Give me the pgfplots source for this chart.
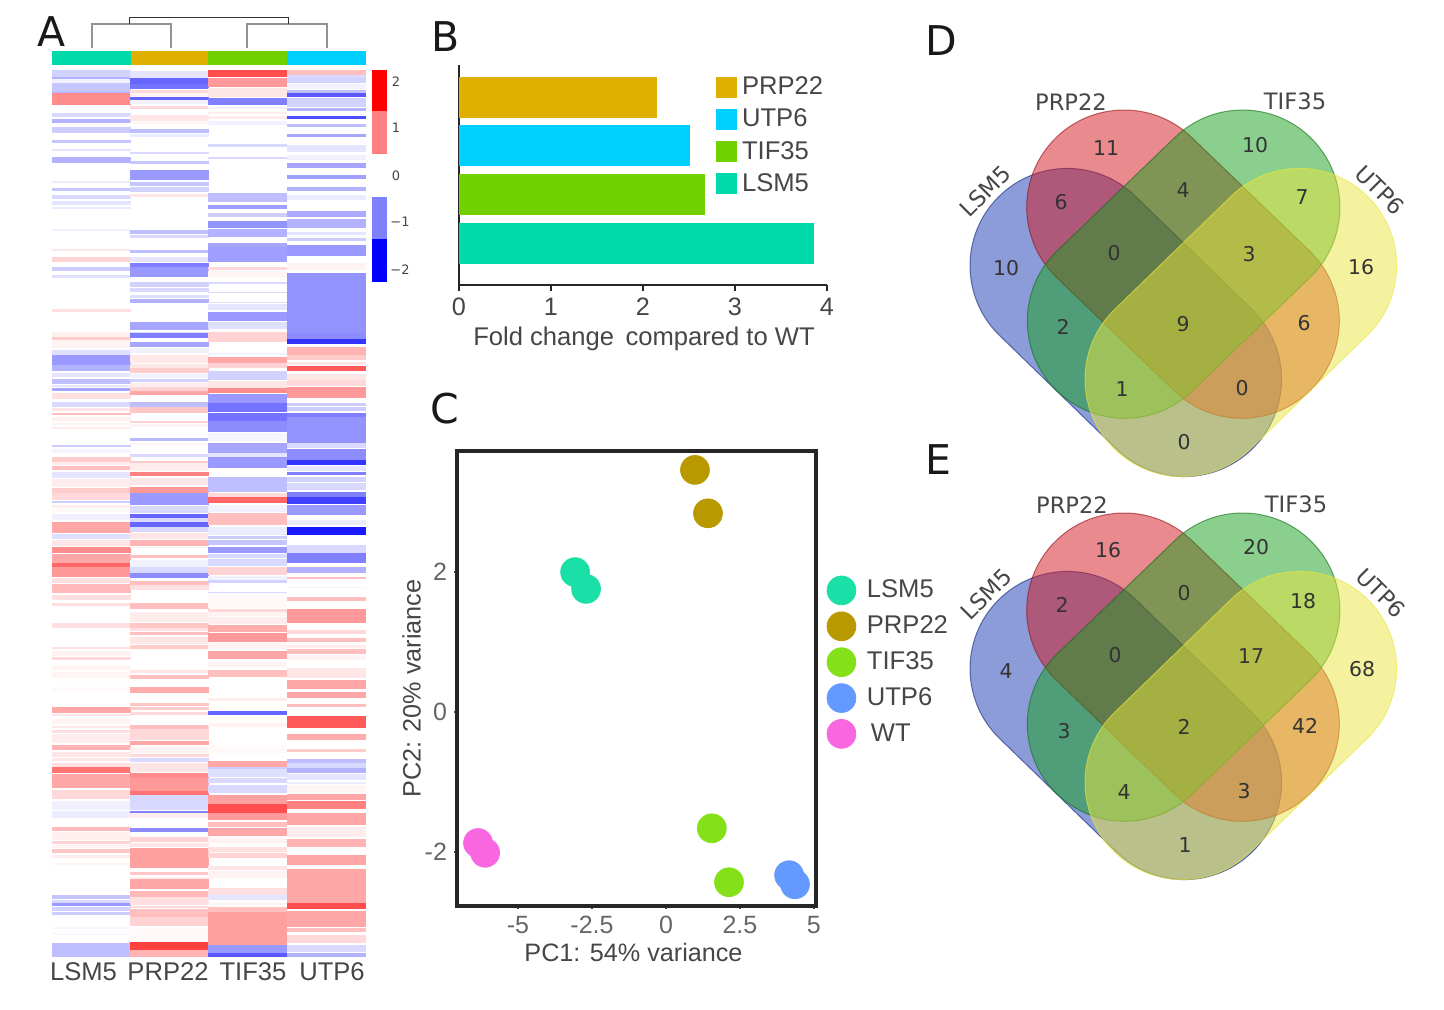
\documentclass[border=0pt]{standalone}
\usepackage{fontspec}
\usepackage{pgfplots}
\usepackage{pgfplotstable}
\pgfplotsset{compat=1.18}
\setmainfont{Liberation Sans}
\newfontfamily\dejavu{DejaVu Sans}

\definecolor{cLSM}{RGB}{0,218,170}
\definecolor{cPRP}{RGB}{224,176,0}
\definecolor{cTIF}{RGB}{112,208,0}
\definecolor{cUTP}{RGB}{0,208,255}
\definecolor{txt}{RGB}{70,70,70}
\definecolor{vBlue}{RGB}{23,57,177}
\definecolor{vRed}{RGB}{211,21,31}
\definecolor{vGreen}{RGB}{23,159,29}
\definecolor{vYellow}{RGB}{233,229,61}
\definecolor{pLSM}{RGB}{26,224,168}
\definecolor{pPRP}{RGB}{184,154,0}
\definecolor{pTIF}{RGB}{132,224,24}
\definecolor{pUTP}{RGB}{100,153,255}
\definecolor{pWT}{RGB}{248,102,224}

% heatmap columns: top and bottom of each stripe (pixels), z-score; white rows left out
\pgfplotstableread{
a b v
70 77 -.35
77 79 -.6
79 83 -.1
83 92 -.45
92 93 -.6
93 105 .9
113 117 -.3
119 123 -.6
127 133 -.4
140 143 -.45
149 151 -.2
157 163 -.6
181 183 -.15
188 191 -.45
195 199 -.3
201 205 -.2
207 209 -.15
229 231 -.1
249 251 .2
257 262 .35
267 271 -.4
275 278 -.25
309 312 .25
332 337 .12
337 340 .4
340 348 .1
350 355 -.25
355 365 -.8
365 371 -.6
373 377 -.2
379 384 -.5
385 387 -.2
388 391 -.7
393 399 .25
402 407 -.3
408 411 .2
413 415 .5
417 421 .12
423 425 .1
427 429 .15
445 447 -.4
449 453 -.08
457 462 .4
462 465 .15
466 470 .5
472 478 -.2
479 487 .15
488 493 .4
493 500 .3
501 503 -.4
505 508 .15
509 513 .05
514 520 -.12
522 533 .7
534 539 -.25
540 546 .2
547 553 .9
554 563 .7
563 567 1.2
567 577 .8
578 583 .25
584 593 .55
595 600 .25
603 606 .25
623 628 .25
647 649 .25
651 656 .1
657 660 .3
665 670 .08
672 678 .08
682 683 .05
688 691 .05
707 713 .7
714 716 .2
719 724 .1
726 728 .2
730 733 .25
734 743 .15
745 750 .6
752 757 .2
758 761 .2
763 767 .25
767 773 1.1
774 788 .7
790 799 .3
801 810 -.12
811 818 -.15
827 831 .55
832 840 .12
841 844 .35
845 848 .1
849 853 .45
855 858 .15
863 865 .08
895 899 -.45
900 903 -.3
903 906 -.8
907 911 -.35
912 915 -.4
927 929 -.05
933 935 -.05
943 957 -.5
}\colA
\pgfplotstableread{
a b v
71 78 -.2
78 84 -1.2
84 89 -1.1
90 93 .3
93 97 .1
97 100 -1.2
100 104 -.1
106 109 .3
115 121 .2
122 124 .1
129 133 -.5
134 137 -.15
152 154 -.3
161 164 -.45
170 180 -.8
182 186 -.45
187 192 -.35
194 197 .2
230 234 -.5
235 238 -.3
250 253 -.5
257 262 -.2
263 267 -1
267 277 -.8
282 287 -.35
288 292 -.3
295 298 -.25
299 303 -.6
322 330 -.7
332 333 -.3
333 338 -1
342 347 -.7
348 353 -.1
355 363 .18
364 368 .2
368 373 .4
374 378 -.1
379 382 -.35
383 387 .15
387 391 .35
391 395 .7
402 407 -.5
407 413 .45
421 423 .35
424 427 .1
438 441 -.55
443 445 .1
454 457 -.3
461 463 .4
463 471 .15
472 476 1
478 485 .2
487 493 .8
493 505 -.8
506 513 -.3
514 518 -1.2
518 522 -.3
522 527 -1.2
527 532 -.3
533 539 .2
540 546 .6
547 548 .1
555 558 .5
560 567 -.1
567 573 -.3
573 578 -.9
581 585 .5
585 590 .25
603 609 .5
612 622 .15
623 628 .45
628 631 .25
632 635 .5
637 644 .2
645 649 .4
670 673 .2
675 679 .5
687 693 .65
703 706 .45
707 710 .4
712 715 .3
725 729 .5
729 740 .3
741 745 .7
747 753 .1
754 757 .3
758 762 -.3
763 772 .2
773 778 .9
778 791 .8
791 795 1.1
795 799 -.3
799 810 -.3
811 813 -1
813 818 .15
828 832 -.9
837 842 .35
843 847 .2
848 868 .75
872 875 .45
877 879 .15
879 889 .7
891 897 .55
897 905 .25
906 908 .3
909 917 .5
917 926 .35
928 941 .05
942 950 1.5
950 957 .6
}\colB
\pgfplotstableread{
a b v
70 77 1.4
78 87 .8
88 97 .2
98 105 -1
107 109 -.1
112 114 .15
116 119 .15
121 125 -.1
144 147 -.3
157 159 -.3
193 202 -.5
205 209 -.75
213 217 -.4
221 228 -.85
229 237 -.6
243 247 -.7
247 262 -.75
267 270 .3
271 277 .08
282 284 -.3
292 293 -.3
302 303 -.25
304 310 -.2
312 321 -.8
322 329 -.25
332 342 .35
353 355 -.1
357 363 .7
363 368 .35
371 380 -.35
381 388 .2
388 393 .9
394 403 -.8
403 412 -1.1
413 421 -1.1
421 432 -.9
433 441 -.08
443 453 -.7
453 457 -.2
457 468 -.8
477 492 -.5
493 497 .3
497 503 1.2
505 512 -.1
513 525 .5
527 535 -.15
536 539 -.4
540 545 -.45
547 553 -.8
554 558 -.3
559 566 -.3
567 575 .35
576 580 -.1
580 583 -.35
592 593 -.3
593 608 .05
609 612 .3
612 616 .1
617 624 .15
625 632 .65
633 642 .8
643 649 .1
651 659 .7
662 667 .1
670 677 .5
698 701 .15
711 715 -1.2
723 727 .1
745 753 .05
761 767 .7
767 769 -.4
769 777 -.25
778 783 -.3
785 793 -.3
795 804 .75
804 813 1.4
813 820 .8
822 827 .5
828 836 .7
838 843 .1
847 852 .25
853 858 .35
866 870 .2
871 878 .1
888 895 .25
895 900 -.2
903 905 .1
907 912 .5
912 945 .75
945 953 -.8
953 957 -1.3
}\colC
\pgfplotstableread{
a b v
70 75 .5
75 78 -.3
78 83 -.35
84 89 -.1
90 93 -.5
93 97 -1.3
98 107 -.35
108 111 -.6
116 119 -1.4
124 127 -.5
134 137 -.7
145 152 -.2
155 160 -.1
163 168 -.7
175 179 -.75
187 191 -.6
195 200 -.15
211 217 -.65
219 228 -.6
232 235 -.2
238 241 -.4
245 256 -.8
263 270 .1
273 333 -.85
333 339 -.9
339 344 -1.6
347 355 .6
355 360 .4
362 365 .2
366 371 1.3
374 380 .2
380 386 .3
387 398 .8
403 406 -.4
407 411 -.4
413 417 -1
417 443 -.85
443 448 -.3
449 460 -.9
460 465 -1.6
466 471 -.2
472 475 -1
477 482 -.35
483 490 -.3
492 497 -1
497 504 -1.5
505 515 -.8
520 525 -.15
527 535 -1.8
545 553 -.3
553 563 -1
567 573 -.6
577 579 .5
587 588 .1
597 601 .5
609 623 .8
630 634 .3
638 642 .5
645 648 .15
649 654 .5
655 660 .1
668 678 .2
680 689 .7
692 698 .7
704 707 .5
716 728 1.3
734 740 .65
749 752 .4
759 763 -.5
763 768 -.3
768 773 -.6
774 780 -.2
782 784 -.15
785 793 .08
794 800 .7
801 809 1
813 825 .7
827 837 .15
839 847 .6
855 865 .7
869 903 .7
903 909 1.4
911 927 .7
928 932 .5
935 943 .3
945 952 -.3
953 957 -.6
}\colD

% venn counts (pixels in the picture, text)
\pgfplotstableread{
x y n
1106 148 11
1255 145 10
1061 202 6
1183 190 4
1302 197 7
1006 268 10
1114 253 0
1249 254 3
1361 267 16
1063 327 2
1183 324 9
1304 323 6
1122 389 1
1242 388 0
1184 442 0
1108 550 16
1256 547 20
1062 605 2
1184 593 0
1303 601 18
1006 671 4
1115 655 0
1251 656 17
1362 669 68
1064 731 3
1184 727 2
1305 726 42
1124 792 4
1244 791 3
1185 845 1
}\venncounts

\pgfdeclareplotmark{hcell}{%
  \pgfpathrectangle{\pgfqpoint{-19.625pt}{-\pgfplotmarksize}}{\pgfqpoint{39.25pt}{2\pgfplotmarksize}}%
  \pgfusepathqfill}

\pgfplotsset{
  hmcol/.style={scatter, only marks, mark=hcell, point meta=explicit,
    scatter/use mapped color={fill=mapped color},
    visualization depends on={0.25*(\thisrow{b}-\thisrow{a})+0.06 \as \hh},
    scatter/@pre marker code/.append style={/tikz/mark size=\hh pt}},
}
% rectangle in picture pixels
\newcommand{\pxbox}[5]{\addplot[fill=#1, draw=none, forget plot] coordinates {(#2,#3) (#4,#3) (#4,#5) (#2,#5)} --cycle;}
% stadium: end centres (#3,#4) and (#5,#6) in pixels, #7 start angle
\newcommand{\stadium}[7]{%
  \path[fill=#1, draw=#2, fill opacity=.5, draw opacity=.6, line width=.5pt]
    (axis cs:#3,#4) ++(#7:48.65pt) arc[start angle=#7, delta angle=180, radius=48.65pt]
    -- ++({(#5-(#3))*0.5pt},{-((#6)-(#4))*0.5pt}) arc[start angle=#7+180, delta angle=180, radius=48.65pt] -- cycle;}
\newcommand{\venn}[1]{%
  \stadium{vBlue}{vBlue!70!black}{1067.3}{265.7+#1}{1184.3}{379.3+#1}{45.8}
  \stadium{vRed}{vRed!70!black}{1124}{207.3+#1}{1242}{321+#1}{46.1}
  \stadium{vGreen}{vGreen!70!black}{1242.6}{207.3+#1}{1124.6}{321+#1}{-46.1}
  \stadium{vYellow}{vYellow}{1299.3}{265.7+#1}{1182.3}{379.3+#1}{-45.8}}
\newcommand{\vennlabels}[2]{%
  \node[font=\dejavu\fontsize{11.3}{13}\selectfont, text=txt] at (axis cs:{1071+#1},{102+#2}) {PRP22};
  \node[font=\dejavu\fontsize{11.3}{13}\selectfont, text=txt] at (axis cs:{1295+#1},{101+#2}) {TIF35};
  \node[rotate=45, font=\dejavu\fontsize{11.3}{13}\selectfont, text=txt] at (axis cs:{985+#1},{191+#2}) {LSM5};
  \node[rotate=-45, font=\dejavu\fontsize{11.3}{13}\selectfont, text=txt] at (axis cs:{1380+#1},{190+#2}) {UTP6};}

\begin{document}
\begin{tikzpicture}
\useasboundingbox (0,0) rectangle (722pt,505pt);
% whole page axis in pixels: heatmap and venns
\begin{axis}[
  at={(0,0)}, anchor=south west, scale only axis, width=722pt, height=505pt,
  xmin=0, xmax=1444, ymin=0, ymax=1010, y dir=reverse,
  hide axis, clip=false,
  colormap={hm}{rgb255=(0,0,255) rgb255=(255,255,255) rgb255=(255,0,0)},
  point meta min=-2, point meta max=2,
]
\pxbox{cLSM}{52}{51}{131}{65}
\pxbox{cPRP}{131}{51}{208.3}{65}
\pxbox{cTIF}{208.3}{51}{287}{65}
\pxbox{cUTP}{287}{51}{366}{65}
\addplot[draw=gray!85, line width=.8pt, forget plot] coordinates {(91.7,48) (91.7,24) (170.7,24) (170.7,48)};
\addplot[draw=gray!85, line width=.8pt, forget plot] coordinates {(247,48) (247,24) (326.7,24) (326.7,48)};
\addplot[draw=gray!40!black, line width=.6pt, forget plot] coordinates {(129.3,24) (129.3,17.3) (288.3,17.3) (288.3,24)};

\addplot[hmcol] table[x expr=91.4, y expr=0.5*(\thisrow{a}+\thisrow{b}), meta=v] {\colA};
\addplot[hmcol] table[x expr=169.7, y expr=0.5*(\thisrow{a}+\thisrow{b}), meta=v] {\colB};
\addplot[hmcol] table[x expr=247.6, y expr=0.5*(\thisrow{a}+\thisrow{b}), meta=v] {\colC};
\addplot[hmcol] table[x expr=326.3, y expr=0.5*(\thisrow{a}+\thisrow{b}), meta=v] {\colD};

% colour key
\pxbox{red}{372}{70}{387}{111}
\pxbox{red!50}{372}{111}{387}{154}
\pxbox{blue!50}{372}{197}{387}{239}
\pxbox{blue}{372}{239}{387}{282}
\node[font=\dejavu\fontsize{6.5}{8}\selectfont, text=txt] at (axis cs:396,82) {2};
\node[font=\dejavu\fontsize{6.5}{8}\selectfont, text=txt] at (axis cs:396,128) {1};
\node[font=\dejavu\fontsize{6.5}{8}\selectfont, text=txt] at (axis cs:396,176) {0};
\node[font=\dejavu\fontsize{6.5}{8}\selectfont, text=txt] at (axis cs:400,222) {−1};
\node[font=\dejavu\fontsize{6.5}{8}\selectfont, text=txt] at (axis cs:400,270) {−2};

\node[font=\fontsize{12.8}{15}\selectfont, text=txt] at (axis cs:83.5,972) {LSM5};
\node[font=\fontsize{12.8}{15}\selectfont, text=txt] at (axis cs:168,972) {PRP22};
\node[font=\fontsize{12.8}{15}\selectfont, text=txt] at (axis cs:253,972) {TIF35};
\node[font=\fontsize{12.8}{15}\selectfont, text=txt] at (axis cs:332,972) {UTP6};

% venns
\venn{0}
\venn{403}
\addplot[only marks, mark=none, point meta=explicit symbolic, nodes near coords,
  nodes near coords style={anchor=center, inner sep=0pt, font=\dejavu\fontsize{10.2}{12}\selectfont, text=black!80}]
  table[x=x, y=y, meta=n] {\venncounts};
\vennlabels{0}{0}
\vennlabels{1}{403}

\node[font=\dejavu\fontsize{20.5}{24}\selectfont, text=black!90] at (axis cs:52,32) {A};
\node[font=\dejavu\fontsize{20.5}{24}\selectfont, text=black!90] at (axis cs:446,37) {B};
\node[font=\dejavu\fontsize{20.5}{24}\selectfont, text=black!90] at (axis cs:445,409) {C};
\node[font=\dejavu\fontsize{20.5}{24}\selectfont, text=black!90] at (axis cs:941,41) {D};
\node[font=\dejavu\fontsize{20.5}{24}\selectfont, text=black!90] at (axis cs:938,460) {E};
\end{axis}

% B
\begin{axis}[
  at={(229.5pt,362.5pt)}, anchor=south west, scale only axis, width=184pt, height=110pt,
  xbar, bar width=20.5pt, bar shift=0pt,
  xmin=0, xmax=4, ymin=0.137, ymax=4.66,
  axis x line=bottom, axis y line=left,
  axis line style={-, line width=1pt, black!85},
  ytick=\empty, xtick={0,1,2,3,4}, xticklabels={0,1,2,3,4},
  tick align=outside, major tick length=3pt, tick style={line width=.8pt, black!85},
  xticklabel style={font=\fontsize{12.6}{15}\selectfont, text=txt},
  xlabel={Fold change\, compared to WT},
  xlabel style={font=\fontsize{12.8}{15}\selectfont, text=txt, yshift=1.5pt, xshift=.5pt},
  legend style={at={(axis cs:2.79,4.47)}, anchor=north west, draw=none, fill=none, inner sep=0pt,
    font=\fontsize{12.8}{15}\selectfont, text=txt, row sep=3.7pt,
    /tikz/every odd column/.append style={column sep=1.5pt},
    nodes={inner sep=1pt}},
  area legend,
  legend image code/.code={\fill[#1] (0pt,-5.25pt) rectangle (10.5pt,5.25pt);},
  legend cell align=left,
]
\addplot[fill=cPRP, draw=none] coordinates {(2.15,4)};
\addplot[fill=cUTP, draw=none] coordinates {(2.51,3)};
\addplot[fill=cTIF, draw=none] coordinates {(2.675,2)};
\addplot[fill=cLSM, draw=none] coordinates {(3.86,1)};
\legend{PRP22,UTP6,TIF35,LSM5}
\end{axis}

% C
\begin{axis}[
  at={(228.5pt,52pt)}, anchor=south west, scale only axis, width=179.5pt, height=227.5pt,
  xmin=-7.06, xmax=5.07, ymin=-2.77, ymax=3.73, clip=false,
  axis line style={line width=2pt, black!85},
  xtick={-5,-2.5,0,2.5,5}, xticklabels={-5,-2.5,0,2.5,5},
  ytick={-2,0,2}, yticklabels={-2,0,2},
  tick align=outside, major tick length=1.5pt, tick style={line width=.6pt, black!70},
  tick pos=left,
  ticklabel style={font=\fontsize{12.5}{15}\selectfont, text=black!60},
  xlabel={PC1: 54\% variance}, ylabel={PC2: 20\% variance},
  xlabel style={font=\fontsize{12.6}{15}\selectfont, text=txt, yshift=2pt, xshift=-1.5pt},
  ylabel style={font=\fontsize{12.6}{15}\selectfont, text=txt, yshift=-5pt, xshift=-5pt},
  legend style={at={(axis cs:5.43,1.95)}, anchor=north west, draw=none, fill=none, inner sep=0pt,
    font=\fontsize{12.8}{15}\selectfont, text=txt, row sep=3.5pt,
    /tikz/every odd column/.append style={column sep=3.5pt}},
  legend cell align=left,
  every axis plot/.append style={only marks, mark=*, mark size=7.2pt},
]
\addplot[color=pLSM] coordinates {(-3.07,2.0) (-2.70,1.76)};
\addplot[color=pPRP] coordinates {(0.98,3.46) (1.42,2.84)};
\addplot[color=pTIF] coordinates {(1.55,-1.66) (2.13,-2.43)};
\addplot[color=pUTP] coordinates {(4.16,-2.33) (4.36,-2.46)};
\addplot[color=pWT] coordinates {(-6.35,-1.87) (-6.11,-2.01)};
\legend{LSM5,PRP22,TIF35,UTP6,\hspace{2pt}WT}
\end{axis}
\end{tikzpicture}
\end{document}
